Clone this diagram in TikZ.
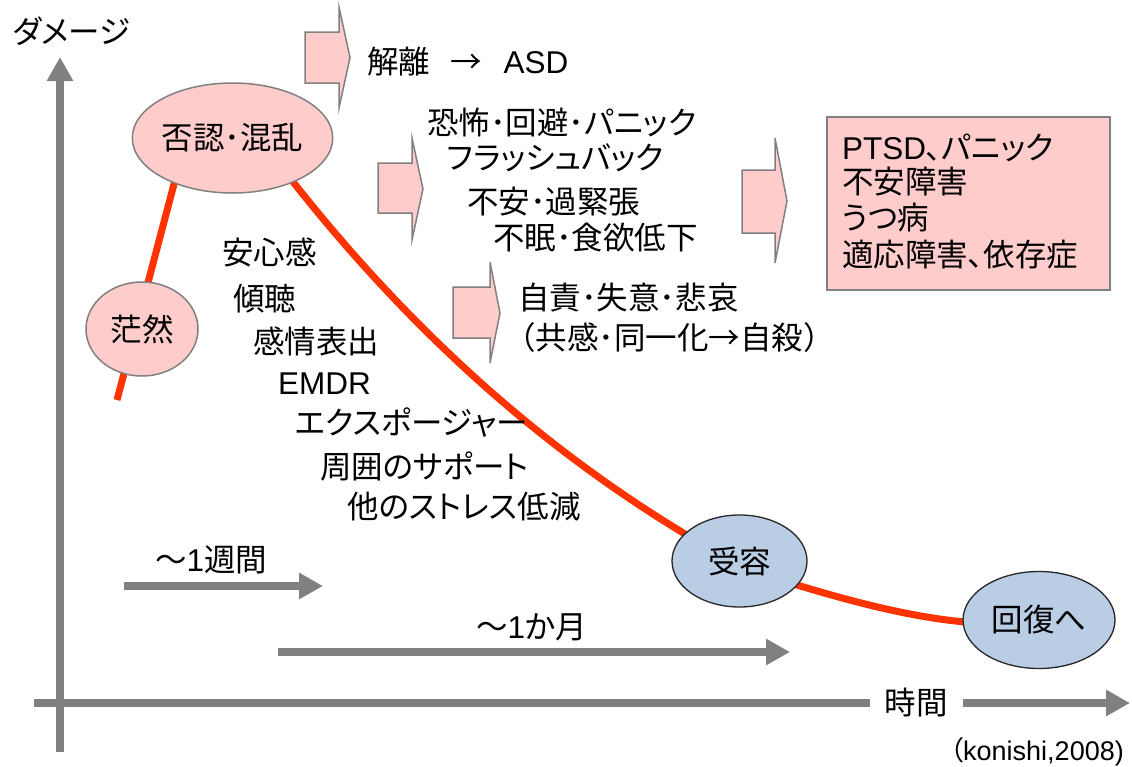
\documentclass[tikz,border=0pt]{standalone}
\usepackage{fontspec}
\setmainfont{Noto Sans CJK JP}[RawFeature=+palt]
\newfontfamily\jpfw{Noto Sans CJK JP}
\newfontfamily\lat{Liberation Sans}
\usetikzlibrary{arrows.meta,shapes.geometric,backgrounds}
\definecolor{pinkf}{HTML}{FFCCCC}
\definecolor{grayc}{HTML}{808080}
\definecolor{redc}{HTML}{FF3300}
\definecolor{bluef}{HTML}{B9CDE5}
\begin{document}
\begin{tikzpicture}[x=1pt,y=-1pt,
  big/.style={font=\fontsize{31.5}{38}\selectfont},
  txt/.style={big, anchor=base west, inner sep=0pt},
  pinkell/.style={big, ellipse, draw=grayc, line width=1.5pt, fill=pinkf, inner sep=0pt},
  blueell/.style={big, ellipse, draw=black!85, line width=1.3pt, fill=bluef, inner sep=0pt},
  blockarr/.style={draw=grayc, line width=1.5pt, fill=pinkf, line join=miter},
  grayarr/.style={draw=grayc, line width=8pt, -{Triangle[length=24pt,width=25pt]}},
  dmg/.style={draw=redc, line width=7pt}
]
\useasboundingbox (0,0) rectangle (1132,766);

% axes
\coordinate (yb) at (60,752);
\coordinate (yt) at (60,57);
\coordinate (xl) at (34,703);
\coordinate (xr) at (1130,703);
\draw[grayarr] (yb) -- (yt);
\draw[grayarr] (xl) -- (xr);
\node[big, fill=white, inner xsep=15pt, inner ysep=4pt] (jikan) at (916,703) {時間};
\node[txt] (dame) at (13,43) {ダメージ};
\node[anchor=base east, inner sep=0pt, font=\fontsize{27}{32}\selectfont] (src) at (1124,760) {（{\lat konishi,2008)}};

% time arrows
\coordinate (w1a) at (124,586);
\coordinate (w1b) at (323,586);
\coordinate (m1a) at (278,652);
\coordinate (m1b) at (790,652);
\draw[grayarr] (w1a) -- (w1b);
\draw[grayarr] (m1a) -- (m1b);
\node[txt] (week) at (155,571) {～{\lat 1}週間};
\node[txt] (month) at (476,638) {～{\lat 1}か月};

% ellipses
\node[pinkell, minimum width=178pt, minimum height=110pt] (hinin) at (232.5,138) {否認･混乱};
\node[pinkell, minimum width=112pt, minimum height=94pt] (bozen) at (142,329) {茫然};
\node[blueell, minimum width=135pt, minimum height=92pt] (juyo) at (739.5,561) {受容};
\node[blueell, minimum width=152pt, minimum height=97pt] (kaifuku) at (1039,620) {回復へ};

% damage curve (behind the ellipses)
\coordinate (c0) at (117,400);
\coordinate (c1) at (183,150);
\coordinate (c2) at (270,153);
\coordinate (c3) at (290,178);
\coordinate (c4) at (690,537);
\coordinate (c5) at (780,580);
\coordinate (c6) at (797,585);
\coordinate (c7) at (965,622);
\coordinate (c8) at (985,623);
\begin{pgfonlayer}{background}
\draw[dmg] (c0) -- (c1);
\draw[dmg] (c2) -- (c3) .. controls (422,346) and (558,458) .. (c4);
\draw[dmg] (c5) -- (c6) .. controls (850,601) and (910,617) .. (c7) -- (c8);
\end{pgfonlayer}

% block arrows
\draw[blockarr] (305,32) -- (339,32) -- (339,7) -- (350,57.5) -- (339,108) -- (339,83) -- (305,83) -- cycle;
\draw[blockarr] (378,163) -- (412,163) -- (412,138) -- (423,189) -- (412,240) -- (412,213) -- (378,213) -- cycle;
\draw[blockarr] (742,170) -- (775,170) -- (775,138) -- (787,201) -- (775,263) -- (775,233) -- (742,233) -- cycle;
\draw[blockarr] (453,287) -- (490,287) -- (490,262) -- (500,313) -- (490,363) -- (490,338) -- (453,338) -- cycle;

% right-side texts
\node[txt] (asd) at (367,73) {解離\hspace{20pt}{\jpfw →}\hspace{22pt}{\lat ASD}};
\node[txt] (kyofu) at (427,134) {恐怖･回避･パニック};
\node[txt] (flash) at (447,169) {フラッシュバック};
\node[txt] (fuan) at (467,213) {不安･過緊張};
\node[txt] (fumin) at (493,249) {不眠･食欲低下};
\node[txt] (jiseki) at (518,309) {自責･失意･悲哀};
\node[txt] (kyokan) at (504,349) {{\jpfw （}共感･同一化{\jpfw →}自殺{\jpfw ）}};

% PTSD box
\draw[draw=grayc, line width=2pt, fill=pinkf] (827,117) rectangle (1110,290);
\node[txt] (p1) at (842,159) {{\lat PTSD}、パニック};
\node[txt] (p2) at (842,193) {不安障害};
\node[txt] (p3) at (842,229) {うつ病};
\node[txt] (p4) at (842,266) {適応障害、依存症};

% care list
\node[txt] (anshin) at (222,264) {安心感};
\node[txt] (keicho) at (233,310) {傾聴};
\node[txt] (kanjo) at (253,353) {感情表出};
\node[txt] (emdr) at (278,394) {{\lat EMDR}};
\node[txt] (expo) at (295,434) {エクスポージャー};
\node[txt] (shui) at (320,478) {周囲のサポート};
\node[txt] (hoka) at (347,518) {他のストレス低減};
\end{tikzpicture}
\end{document}
